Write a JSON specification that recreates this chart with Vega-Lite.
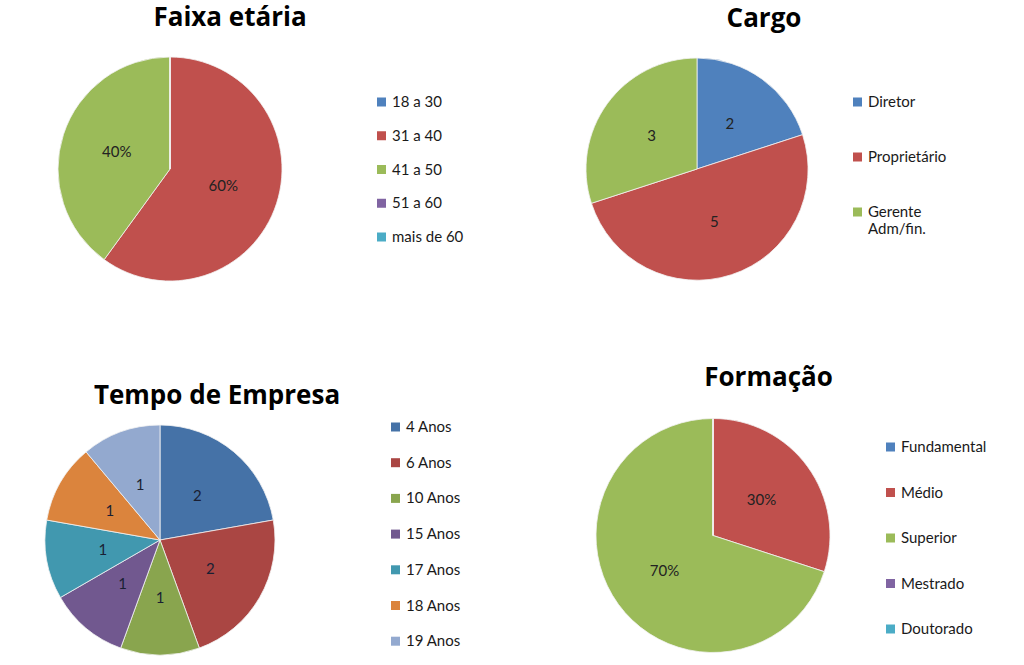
{
  "$schema": "https://vega.github.io/schema/vega-lite/v6.json",
  "padding": {"top": 5, "left": 0, "right": 0, "bottom": 0},
  "background": "white",
  "bounds": "flush",
  "align": "each",
  "columns": 2,
  "spacing": {"row": 139, "column": 140},
  "config": {
    "view": {"stroke": null},
    "font": "Lato",
    "title": {"font": "Open Sans", "fontSize": 26, "fontWeight": "bold", "color": "#000000", "baseline": "alphabetic", "anchor": "middle"},
    "legend": {"orient": "none", "title": null, "symbolType": "square", "symbolSize": 81, "symbolStrokeWidth": 0, "labelFont": "Lato", "labelFontSize": 15, "labelColor": "#1a1a1a", "labelOffset": 3, "padding": 0}
  },
  "datasets": {
    "faixa": [
      {"ordem": 1, "categoria": "18 a 30", "valor": 0, "rotulo": ""},
      {"ordem": 2, "categoria": "31 a 40", "valor": 60, "rotulo": "60%"},
      {"ordem": 3, "categoria": "41 a 50", "valor": 40, "rotulo": "40%"},
      {"ordem": 4, "categoria": "51 a 60", "valor": 0, "rotulo": ""},
      {"ordem": 5, "categoria": "mais de 60", "valor": 0, "rotulo": ""}
    ],
    "cargo": [
      {"ordem": 1, "categoria": "Diretor", "valor": 2, "rotulo": "2"},
      {"ordem": 2, "categoria": "Proprietário", "valor": 5, "rotulo": "5"},
      {"ordem": 3, "categoria": "Gerente Adm/fin.", "valor": 3, "rotulo": "3"}
    ],
    "tempo": [
      {"ordem": 1, "categoria": "4 Anos", "valor": 2, "rotulo": "2"},
      {"ordem": 2, "categoria": "6 Anos", "valor": 2, "rotulo": "2"},
      {"ordem": 3, "categoria": "10 Anos", "valor": 1, "rotulo": "1"},
      {"ordem": 4, "categoria": "15 Anos", "valor": 1, "rotulo": "1"},
      {"ordem": 5, "categoria": "17 Anos", "valor": 1, "rotulo": "1"},
      {"ordem": 6, "categoria": "18 Anos", "valor": 1, "rotulo": "1"},
      {"ordem": 7, "categoria": "19 Anos", "valor": 1, "rotulo": "1"}
    ],
    "formacao": [
      {"ordem": 1, "categoria": "Fundamental", "valor": 0, "rotulo": ""},
      {"ordem": 2, "categoria": "Médio", "valor": 30, "rotulo": "30%"},
      {"ordem": 3, "categoria": "Superior", "valor": 70, "rotulo": "70%"},
      {"ordem": 4, "categoria": "Mestrado", "valor": 0, "rotulo": ""},
      {"ordem": 5, "categoria": "Doutorado", "valor": 0, "rotulo": ""}
    ]
  },
  "resolve": {"scale": {"color": "independent", "theta": "independent"}, "legend": {"color": "independent"}},
  "concat": [
    {
      "width": 340,
      "height": 224,
      "title": {"text": "Faixa etária", "offset": 24, "dx": 60},
      "data": {"name": "faixa"},
      "encoding": {
        "theta": {"field": "valor", "type": "quantitative", "stack": true},
        "order": {"field": "ordem", "type": "quantitative"},
        "detail": {"field": "categoria", "type": "nominal"},
        "color": {
          "field": "categoria", "type": "nominal",
          "scale": {"domain": ["18 a 30", "31 a 40", "41 a 50", "51 a 60", "mais de 60"], "range": ["#4F81BD", "#C0504D", "#9BBB59", "#8064A2", "#4BACC6"]},
          "legend": {"orient": "none", "legendX": 374, "legendY": 37.5, "rowPadding": 17.75}
        }
      },
      "layer": [
        {"mark": {"type": "arc", "outerRadius": 112, "stroke": "#f2f2f2", "strokeWidth": 0.8}},
        {
          "transform": [{"filter": "datum.valor > 0"}],
          "mark": {"type": "text", "radius": 56, "fontSize": 15, "font": "Lato"},
          "encoding": {"text": {"field": "rotulo"}, "color": {"value": "#222222"}}
        }
      ]
    },
    {
      "width": 434,
      "height": 224,
      "title": {"text": "Cargo", "offset": 24, "dx": 67},
      "data": {"name": "cargo"},
      "encoding": {
        "theta": {"field": "valor", "type": "quantitative", "stack": true},
        "order": {"field": "ordem", "type": "quantitative"},
        "detail": {"field": "categoria", "type": "nominal"},
        "color": {
          "field": "categoria", "type": "nominal",
          "scale": {"domain": ["Diretor", "Proprietário", "Gerente Adm/fin."], "range": ["#4F81BD", "#C0504D", "#9BBB59"]},
          "legend": {"orient": "none", "legendX": 370, "legendY": 37.5, "rowPadding": 39, "labelExpr": "datum.label == 'Gerente Adm/fin.' ? ['Gerente', 'Adm/fin.'] : datum.label"}
        }
      },
      "layer": [
        {"mark": {"type": "arc", "outerRadius": 111, "stroke": "#f2f2f2", "strokeWidth": 0.8}},
        {
          "transform": [{"filter": "datum.valor > 0"}],
          "mark": {"type": "text", "radius": 56, "fontSize": 15, "font": "Lato"},
          "encoding": {"text": {"field": "rotulo"}, "color": {"value": "#222222"}}
        }
      ]
    },
    {
      "width": 320,
      "height": 240,
      "title": {"text": "Tempo de Empresa", "offset": 11, "dx": 57},
      "data": {"name": "tempo"},
      "encoding": {
        "theta": {"field": "valor", "type": "quantitative", "stack": true},
        "order": {"field": "ordem", "type": "quantitative"},
        "detail": {"field": "categoria", "type": "nominal"},
        "color": {
          "field": "categoria", "type": "nominal",
          "scale": {"domain": ["4 Anos", "6 Anos", "10 Anos", "15 Anos", "17 Anos", "18 Anos", "19 Anos"], "range": ["#4572A7", "#AA4643", "#89A54E", "#71588F", "#4198AF", "#DB843D", "#93A9CF"]},
          "legend": {"orient": "none", "legendX": 388, "legendY": -0.5, "rowPadding": 19.7}
        }
      },
      "layer": [
        {"mark": {"type": "arc", "outerRadius": 115, "stroke": "#f2f2f2", "strokeWidth": 0.8}},
        {
          "transform": [{"filter": "datum.valor > 0"}],
          "mark": {"type": "text", "radius": 58, "fontSize": 15, "font": "Lato"},
          "encoding": {"text": {"field": "rotulo"}, "color": {"value": "#1a1f33"}}
        }
      ]
    },
    {
      "width": 466,
      "height": 231,
      "title": {"text": "Formação", "offset": 26, "dx": 55.5},
      "data": {"name": "formacao"},
      "encoding": {
        "theta": {"field": "valor", "type": "quantitative", "stack": true},
        "order": {"field": "ordem", "type": "quantitative"},
        "detail": {"field": "categoria", "type": "nominal"},
        "color": {
          "field": "categoria", "type": "nominal",
          "scale": {"domain": ["Fundamental", "Médio", "Superior", "Mestrado", "Doutorado"], "range": ["#4F81BD", "#C0504D", "#9BBB59", "#8064A2", "#4BACC6"]},
          "legend": {"orient": "none", "legendX": 403, "legendY": 19.5, "rowPadding": 29.5}
        }
      },
      "layer": [
        {"mark": {"type": "arc", "outerRadius": 117, "stroke": "#f2f2f2", "strokeWidth": 0.8}},
        {
          "transform": [{"filter": "datum.valor > 0"}],
          "mark": {"type": "text", "radius": 60, "fontSize": 15, "font": "Lato"},
          "encoding": {"text": {"field": "rotulo"}, "color": {"value": "#222222"}}
        }
      ]
    }
  ]
}
